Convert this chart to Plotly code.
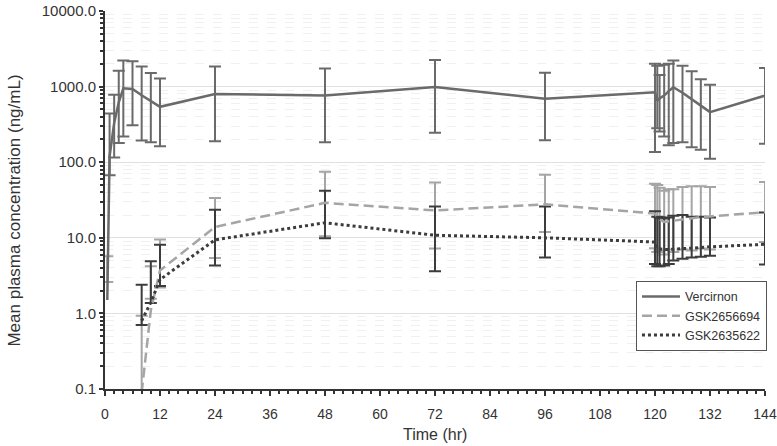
import plotly.graph_objects as go

# ---------------- data ----------------
time_hr = [0.5, 1, 2, 3, 4, 6, 8, 10, 12, 24, 48, 72, 96,
           120, 120.5, 121, 122, 123, 124, 126, 128, 130, 132, 144]

vercirnon_mean = [1.5, 120, 330, 620, 950, 930, 770, 640, 540, 800, 760, 990, 690,
                  840, 650, 700, 760, 870, 980, 830, 690, 560, 460, 760]
vercirnon_upper = [None, 440, 780, 1620, 2220, 2170, 1850, 1510, 1280, 1850, 1740, 2250, 1530,
                   2010, 1880, 1420, 1950, 2010, 2220, 1880, 1590, 1250, 1060, 1760]
vercirnon_lower = [None, 67, 115, 179, 219, 307, 194, 184, 162, 190, 183, 245, 195,
                   136, 282, 254, 219, 167, 179, 184, 158, 146, 111, 176]

gsk694_mean = [3.8, None, None, None, None, None, 0.09, 1.1, 3.7, 13.9, 29, 23, 27.7,
               20.9, 18.5, 17.5, 16.2, 16.5, 17, 17.8, 18.2, 18.8, 19.2, 21.8]
gsk694_upper = [5.7, None, None, None, None, None, 0.93, 4.2, 9.5, 33.5, 75, 54, 68,
                52, 50, 46, 42, 44, 44, 47, 48, 48, 47, 54.6]
gsk694_lower = [2.6, None, None, None, None, None, 0, 1.56, 2.2, 5.4, 10.5, 7.2, 11.9,
                7.3, 6.5, 6.8, 6.0, 7.0, 6.5, 7.0, 6.8, 7.2, 7.0, 8.8]

gsk622_mean = [None, None, None, None, None, None, 0.8, 1.4, 2.8, 9.4, 15.8, 10.8, 10.0,
               8.8, 7.2, 7.1, 7.0, 7.0, 7.1, 7.2, 7.3, 7.5, 7.6, 8.2]
gsk622_upper = [None, None, None, None, None, None, 2.4, 4.9, 8.1, 23.5, 42, 26, 26,
                22.4, 19, 18.5, 18, 18.5, 19.5, 20, 19, 19, 18.5, 21.6]
gsk622_lower = [None, None, None, None, None, None, 0.7, 1.37, 2.3, 4.3, 9.9, 3.6, 5.5,
                4.5, 4.2, 4.2, 4.3, 4.5, 5.0, 5.3, 5.5, 5.6, 5.8, 4.45]

series_names = ["Vercirnon", "GSK2656694", "GSK2635622"]
y_tick_vals = [0.1, 1, 10, 100, 1000, 10000]
y_tick_text = ["0.1", "1.0", "10.0", "100.0", "1000.0", "10000.0"]
x_title = "Time (hr)"
y_title = "Mean plasma concentration (ng/mL)"

# ---------------- styles ----------------
col_v = "#6a6a6a"
col_694 = "#a5a5a5"
col_622 = "#3c3c3c"
FONT = "Liberation Sans, Arial, sans-serif"
AX = "#333333"


def err_trace(t, m, up, lo, color):
    xs, ys, plus, minus = [], [], [], []
    for ti, mi, ui, li in zip(t, m, up, lo):
        if mi is None or ui is None:
            continue
        xs.append(ti)
        ys.append(mi)
        plus.append(ui - mi)
        minus.append(mi - li)
    return go.Scatter(
        x=xs, y=ys, mode="markers",
        marker=dict(size=1, color="rgba(0,0,0,0)"),
        error_y=dict(type="data", symmetric=False, array=plus, arrayminus=minus,
                     color=color, thickness=2, width=6),
        showlegend=False, hoverinfo="skip")


fig = go.Figure()
fig.add_trace(err_trace(time_hr, vercirnon_mean, vercirnon_upper, vercirnon_lower, col_v))
fig.add_trace(err_trace(time_hr, gsk694_mean, gsk694_upper, gsk694_lower, col_694))
fig.add_trace(err_trace(time_hr, gsk622_mean, gsk622_upper, gsk622_lower, col_622))

fig.add_trace(go.Scatter(x=time_hr, y=vercirnon_mean, mode="lines", name=series_names[0],
                         line=dict(color=col_v, width=2.5)))
fig.add_trace(go.Scatter(x=time_hr, y=gsk694_mean, mode="lines", name=series_names[1],
                         line=dict(color=col_694, width=2.5, dash="10px,5px")))
fig.add_trace(go.Scatter(x=time_hr, y=gsk622_mean, mode="lines", name=series_names[2],
                         line=dict(color=col_622, width=3, dash="dot")))

fig.update_layout(
    width=777, height=446,
    margin=dict(l=105, r=12, t=11, b=57, autoexpand=False),
    paper_bgcolor="white", plot_bgcolor="white",
    font=dict(family=FONT, color=AX),
    legend=dict(x=0.8045, y=0.286, xanchor="left", yanchor="top",
                bgcolor="white", bordercolor="#555555", borderwidth=1,
                font=dict(size=12.5, color=AX), itemwidth=38,
                tracegroupgap=0),
    annotations=[
        dict(text=x_title, xref="paper", yref="paper", x=0.5, y=-0.12,
             xanchor="center", yanchor="middle", showarrow=False,
             font=dict(size=16, color=AX)),
        dict(text=y_title, xref="paper", yref="paper", x=-0.1364, y=0.472,
             xanchor="center", yanchor="middle", textangle=-90, showarrow=False,
             font=dict(size=17, color=AX)),
    ],
)

fig.update_xaxes(
    range=[0, 144], tickmode="linear", tick0=0, dtick=12,
    ticks="outside", ticklen=5, tickwidth=2, tickcolor=AX,
    showline=True, linecolor=AX, linewidth=2,
    showgrid=False, zeroline=False, automargin=False,
    tickfont=dict(size=14, color=AX), ticklabelstandoff=6,
    ticklabeloverflow="allow",
    minor=dict(dtick=2, ticks="outside", ticklen=3, tickwidth=1.5, tickcolor=AX),
)

fig.update_yaxes(
    type="log", range=[-1, 4],
    tickmode="array", tickvals=y_tick_vals, ticktext=y_tick_text,
    ticks="outside", ticklen=4, tickwidth=2, tickcolor=AX,
    showline=True, linecolor=AX, linewidth=2,
    showgrid=True, gridcolor="#e0e0e0", gridwidth=1, zeroline=False, automargin=False,
    tickfont=dict(size=15, color=AX), ticklabeloverflow="allow",
    minor=dict(dtick="D1", ticks="outside", ticklen=3, tickwidth=1.5, tickcolor=AX,
               showgrid=True, gridcolor="#f0f0f0", griddash="dash"),
)

fig.write_html("out.html", config={"displayModeBar": False},
               post_script="document.body.style.margin='0';")
